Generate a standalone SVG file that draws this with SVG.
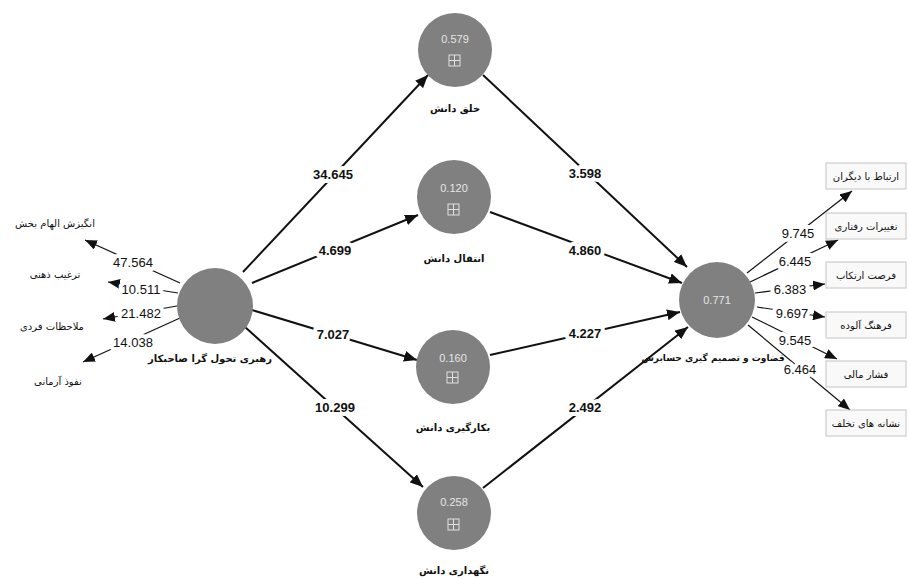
<svg xmlns="http://www.w3.org/2000/svg" width="908" height="579" viewBox="0 0 908 579">
<style>
.bg{fill:#ffffff}
.lv{fill:#808080}
.val{font-family:"Liberation Sans",Arial,sans-serif;font-size:11px;fill:#e6e6e6;text-anchor:middle;dominant-baseline:central}
.icon{fill:none;stroke:#e0e0e0;stroke-width:1}
.nl{font-family:"DejaVu Sans",sans-serif;font-size:10px;font-weight:bold;fill:#111;text-anchor:middle;dominant-baseline:central}
.il{font-family:"DejaVu Sans",sans-serif;font-size:10px;fill:#111;text-anchor:middle;dominant-baseline:central}
.box{fill:#f9f9f9;stroke:#c4c4c4;stroke-width:1}
.pl{stroke:#111;stroke-width:2;fill:none}
.ll{stroke:#111;stroke-width:1.2;fill:none}
.pn{font-family:"Liberation Sans",Arial,sans-serif;font-size:13px;font-weight:bold;fill:#111;text-anchor:middle;dominant-baseline:central;stroke:#fff;stroke-width:8;stroke-linejoin:round;paint-order:stroke}
.ln{font-family:"Liberation Sans",Arial,sans-serif;font-size:13px;fill:#111;text-anchor:middle;dominant-baseline:central;stroke:#fff;stroke-width:8;stroke-linejoin:round;paint-order:stroke}
</style>
<defs>
<marker id="ah" viewBox="0 0 12 10" refX="12" refY="5" markerWidth="13" markerHeight="11" markerUnits="userSpaceOnUse" orient="auto">
<path d="M0,0 L12,5 L0,10 z" fill="#111"/>
</marker>
<marker id="ahs" viewBox="0 0 12 10" refX="12" refY="5" markerWidth="12" markerHeight="10" markerUnits="userSpaceOnUse" orient="auto">
<path d="M0,0 L12,5 L0,10 z" fill="#111"/>
</marker>
</defs>
<rect class="bg" x="0" y="0" width="908" height="579"/>

<g id="connectors">
<line class="pl" x1="243" y1="272" x2="428" y2="75" marker-end="url(#ah)"/>
<line class="pl" x1="252" y1="283" x2="418" y2="215" marker-end="url(#ah)"/>
<line class="pl" x1="252" y1="310" x2="417" y2="360" marker-end="url(#ah)"/>
<line class="pl" x1="245" y1="327" x2="423" y2="487" marker-end="url(#ah)"/>
<line class="pl" x1="483" y1="75" x2="687" y2="267" marker-end="url(#ah)"/>
<line class="pl" x1="490" y1="212" x2="682" y2="283" marker-end="url(#ah)"/>
<line class="pl" x1="490" y1="355" x2="680" y2="312" marker-end="url(#ah)"/>
<line class="pl" x1="483" y1="488" x2="688" y2="327" marker-end="url(#ah)"/>
<line class="ll" x1="180" y1="283" x2="85" y2="240" marker-end="url(#ahs)"/>
<line class="ll" x1="178" y1="293" x2="108" y2="282" marker-end="url(#ahs)"/>
<line class="ll" x1="177" y1="306" x2="103" y2="319" marker-end="url(#ahs)"/>
<line class="ll" x1="180" y1="318" x2="83" y2="362" marker-end="url(#ahs)"/>
<line class="ll" x1="747" y1="273" x2="852" y2="191" marker-end="url(#ahs)"/>
<line class="ll" x1="750" y1="282" x2="838" y2="240" marker-end="url(#ahs)"/>
<line class="ll" x1="755" y1="293" x2="825" y2="284" marker-end="url(#ahs)"/>
<line class="ll" x1="757" y1="307" x2="825" y2="317" marker-end="url(#ahs)"/>
<line class="ll" x1="752" y1="317" x2="837" y2="359" marker-end="url(#ahs)"/>
<line class="ll" x1="748" y1="325" x2="850" y2="410" marker-end="url(#ahs)"/>
<text class="pn" x="333" y="174">34.645</text>
<text class="pn" x="335" y="250">4.699</text>
<text class="pn" x="333" y="334">7.027</text>
<text class="pn" x="335" y="407">10.299</text>
<text class="pn" x="585" y="173">3.598</text>
<text class="pn" x="585" y="250">4.860</text>
<text class="pn" x="585" y="333">4.227</text>
<text class="pn" x="585" y="407">2.492</text>
<text class="ln" x="133" y="262">47.564</text>
<text class="ln" x="141" y="289">10.511</text>
<text class="ln" x="141" y="313">21.482</text>
<text class="ln" x="133" y="342">14.038</text>
<text class="ln" x="798" y="233">9.745</text>
<text class="ln" x="795" y="261">6.445</text>
<text class="ln" x="790" y="289">6.383</text>
<text class="ln" x="792" y="313">9.697</text>
<text class="ln" x="795" y="340">9.545</text>
<text class="ln" x="800" y="369">6.464</text>
</g>

<g id="n-leader">
<circle class="lv" cx="215" cy="306" r="38"/>
<text class="nl" x="210" y="358">رهبری تحول گرا صاحبکار</text>
</g>

<g id="n-create">
<circle class="lv" cx="455" cy="50" r="37"/>
<text class="val" x="455" y="39">0.579</text>
<rect class="icon" x="449" y="55" width="11" height="11"/>
<path class="icon" d="M454.5,55 V66 M449,60.5 H460"/>
<text class="nl" x="455" y="108">خلق دانش</text>
</g>

<g id="n-transfer">
<circle class="lv" cx="454" cy="197" r="37"/>
<text class="val" x="454" y="188">0.120</text>
<rect class="icon" x="448" y="204" width="11" height="11"/>
<path class="icon" d="M453.5,204 V215 M448,209.5 H459"/>
<text class="nl" x="454" y="258">انتقال دانش</text>
</g>

<g id="n-apply">
<circle class="lv" cx="453" cy="367" r="37"/>
<text class="val" x="453" y="358">0.160</text>
<rect class="icon" x="447" y="372" width="11" height="11"/>
<path class="icon" d="M452.5,372 V383 M447,377.5 H458"/>
<text class="nl" x="453" y="427">بکارگیری دانش</text>
</g>

<g id="n-keep">
<circle class="lv" cx="454" cy="513" r="37"/>
<text class="val" x="454" y="502">0.258</text>
<rect class="icon" x="448" y="519" width="11" height="11"/>
<path class="icon" d="M453.5,519 V530 M448,524.5 H459"/>
<text class="nl" x="454" y="570">نگهداری دانش</text>
</g>

<g id="n-judge">
<circle class="lv" cx="717" cy="300" r="38"/>
<text class="val" x="717" y="300">0.771</text>
<text class="nl" x="713" y="358" style="font-size:9px">قضاوت و تصمیم گیری حسابرس</text>
</g>

<g id="i-left-1"><text class="il" x="55" y="223">انگیزش الهام بخش</text></g>
<g id="i-left-2"><text class="il" x="55" y="274">ترغیب ذهنی</text></g>
<g id="i-left-3"><text class="il" x="52" y="326">ملاحظات فردی</text></g>
<g id="i-left-4"><text class="il" x="58" y="381">نفوذ آرمانی</text></g>

<g id="i-right-1"><rect class="box" x="826" y="163" width="80" height="26"/><text class="il" x="866" y="176">ارتباط با دیگران</text></g>
<g id="i-right-2"><rect class="box" x="826" y="213" width="80" height="26"/><text class="il" x="866" y="226">تغییرات رفتاری</text></g>
<g id="i-right-3"><rect class="box" x="826" y="262" width="80" height="26"/><text class="il" x="866" y="275">فرصت ارتکاب</text></g>
<g id="i-right-4"><rect class="box" x="826" y="312" width="80" height="26"/><text class="il" x="866" y="325">فرهنگ آلوده</text></g>
<g id="i-right-5"><rect class="box" x="826" y="361" width="80" height="26"/><text class="il" x="866" y="374">فشار مالی</text></g>
<g id="i-right-6"><rect class="box" x="826" y="410" width="80" height="26"/><text class="il" x="866" y="423">نشانه های تخلف</text></g>
</svg>
